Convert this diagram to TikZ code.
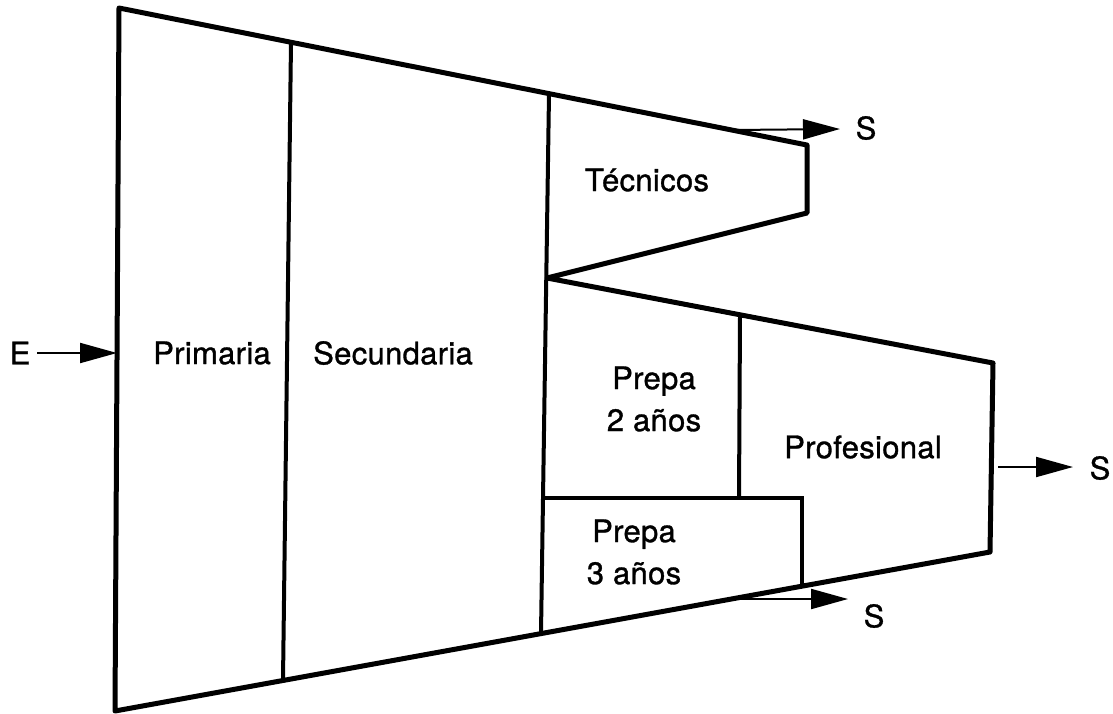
\documentclass[tikz,border=0pt]{standalone}
\usepackage{fontspec}
\setmainfont{TeX Gyre Heros}
\usetikzlibrary{arrows.meta}
\begin{document}
\begin{tikzpicture}[x=1pt,y=-1pt,
  outline/.style={line width=5pt,line join=round},
  divider/.style={line width=4pt},
  flow/.style={line width=2pt,-{Triangle[length=37pt,width=20pt]}},
  lbl/.style={font=\fontsize{31}{42}\selectfont\addfontfeature{LetterSpace=1,FakeBold=1},inner sep=0pt,align=center}]
\fill[white] (0,0) rectangle (1113,713);
\useasboundingbox (0,0) rectangle (1113,713);
% corners of the outline
\coordinate (TL) at (119,8);
\coordinate (TR) at (807,145);
\coordinate (TB) at (807,213);
\coordinate (J)  at (547,278);
\coordinate (PT) at (993,363);
\coordinate (PB) at (990,552);
\coordinate (BL) at (115,711);
% dividers
\coordinate (D1t) at (291,42);
\coordinate (D1b) at (283,680);
\coordinate (D2t) at (549,94);
\coordinate (D2b) at (541,633);
\coordinate (P3a) at (543,498);
\coordinate (P3b) at (802,498);
\coordinate (P3c) at (802,586);
\coordinate (D3t) at (740,316);
\coordinate (D3b) at (739,498);
% arrow ends
\coordinate (Ea) at (37,353);
\coordinate (Eb) at (117,353);
\coordinate (A1a) at (733,130);
\coordinate (A1b) at (840,129);
\coordinate (A2a) at (733,599);
\coordinate (A2b) at (848,599);
\coordinate (A3a) at (998,467);
\coordinate (A3b) at (1073,467);

\draw[outline] (TL) -- (TR) -- (TB) -- (J) -- (PT) -- (PB) -- (BL) -- cycle;
\draw[divider] (D1t) -- (D1b);
\draw[divider] (D2t) -- (D2b);
\draw[divider] (P3a) -- (P3b) -- (P3c);
\draw[divider] (D3t) -- (D3b);

\node[lbl] (E) at (20,353) {E};
\node[lbl] (prim) at (212,353) {Primaria};
\node[lbl] (sec) at (393,353) {Secundaria};
\node[lbl] (tec) at (647,180) {Técnicos};
\node[lbl] (p2) at (654,399) {Prepa\\2 años};
\node[lbl] (prof) at (863,447) {Profesional};
\node[lbl] (p3) at (634,552) {Prepa\\3 años};
\node[lbl] (S1) at (866,128) {S};
\node[lbl] (S2) at (874,616) {S};
\node[lbl] (S3) at (1100,468) {S};

\draw[flow] (Ea) -- (Eb);
\draw[flow] (A1a) -- (A1b);
\draw[flow] (A2a) -- (A2b);
\draw[flow] (A3a) -- (A3b);
\end{tikzpicture}
\end{document}
